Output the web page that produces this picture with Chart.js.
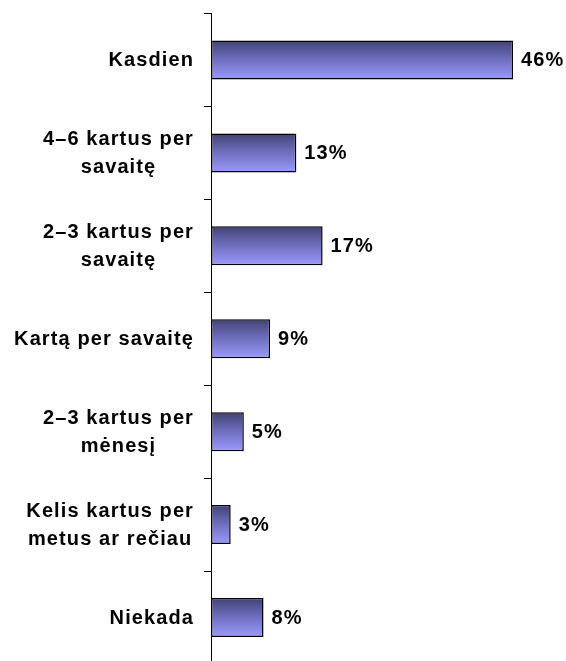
<!DOCTYPE html>
<html>
<head>
<meta charset="utf-8">
<script src="https://cdn.jsdelivr.net/npm/chart.js@4"></script>
<style>
  html, body { margin: 0; padding: 0; background: #fff; overflow: hidden; }
  #wrap { width: 566px; height: 680px; position: relative; }
</style>
</head>
<body>
<div id="wrap"><canvas id="grafica"></canvas></div>
<script>
// categorías (líneas de cada etiqueta)
const categorias = [
    ["Kasdien"],
    ["4–6 kartus per", "savaitę"],
    ["2–3 kartus per", "savaitę"],
    ["Kartą per savaitę"],
    ["2–3 kartus per", "mėnesį"],
    ["Kelis kartus per", "metus ar rečiau"],
    ["Niekada"]
];
const valores = [46, 13, 17, 9, 5, 3, 8];
const etiquetas = valores.map(v => v + "%");

const FUENTE = "bold 20px 'Liberation Sans', Arial, sans-serif";

// degradado vertical por barra
function colorBarra(ctx) {
    const chart = ctx.chart;
    const area = chart.chartArea;
    if (!area || !chart.scales.y) return "#7777cc";
    const y = chart.scales.y.getPixelForValue(ctx.dataIndex);
    const g = chart.ctx.createLinearGradient(0, y - 19, 0, y + 19);
    g.addColorStop(0, "#434377");
    g.addColorStop(0.5, "#7070c0");
    g.addColorStop(1, "#9999fb");
    return g;
}

// textos de categorías y valores
const textos = {
    id: "textos",
    afterDraw(chart) {
        const ctx = chart.ctx;
        const ys = chart.scales.y;
        const xs = chart.scales.x;
        ctx.save();
        ctx.font = FUENTE;
        ctx.fillStyle = "#000";
        ctx.textBaseline = "middle";
        if ("letterSpacing" in ctx) ctx.letterSpacing = "1.1px";
        categorias.forEach((lineas, i) => {
            const yc = ys.getPixelForValue(i) + 1;
            const ancho = Math.max(...lineas.map(l => ctx.measureText(l).width));
            const xc = 194 - ancho / 2;
            ctx.textAlign = "center";
            const alto = 28;
            lineas.forEach((l, j) => {
                ctx.fillText(l, xc, yc + (j - (lineas.length - 1) / 2) * alto);
            });
            ctx.textAlign = "left";
            ctx.fillText(etiquetas[i], xs.getPixelForValue(valores[i]) + 8, yc);
        });
        ctx.restore();
    }
};

new Chart(document.getElementById("grafica"), {
    type: "bar",
    data: {
        labels: categorias,
        datasets: [{
            data: valores,
            backgroundColor: colorBarra,
            borderColor: "#000",
            borderWidth: 1.5,
            borderSkipped: false,
            barPercentage: 0.42,
            categoryPercentage: 1
        }]
    },
    plugins: [textos],
    options: {
        indexAxis: "y",
        responsive: true,
        maintainAspectRatio: false,
        animation: false,
        layout: { padding: { top: 13.5, right: 26.7, bottom: 16, left: 0 } },
        plugins: { legend: { display: false }, tooltip: { enabled: false } },
        scales: {
            x: {
                display: false,
                min: 0,
                max: 50
            },
            y: {
                afterFit: s => { s.width = 211; },
                border: { display: true, color: "#000", width: 1 },
                grid: { drawOnChartArea: false, drawTicks: true, tickLength: 7, color: "#000", offset: true },
                ticks: { callback: () => "", padding: 0 }
            }
        }
    }
});
</script>
</body>
</html>
